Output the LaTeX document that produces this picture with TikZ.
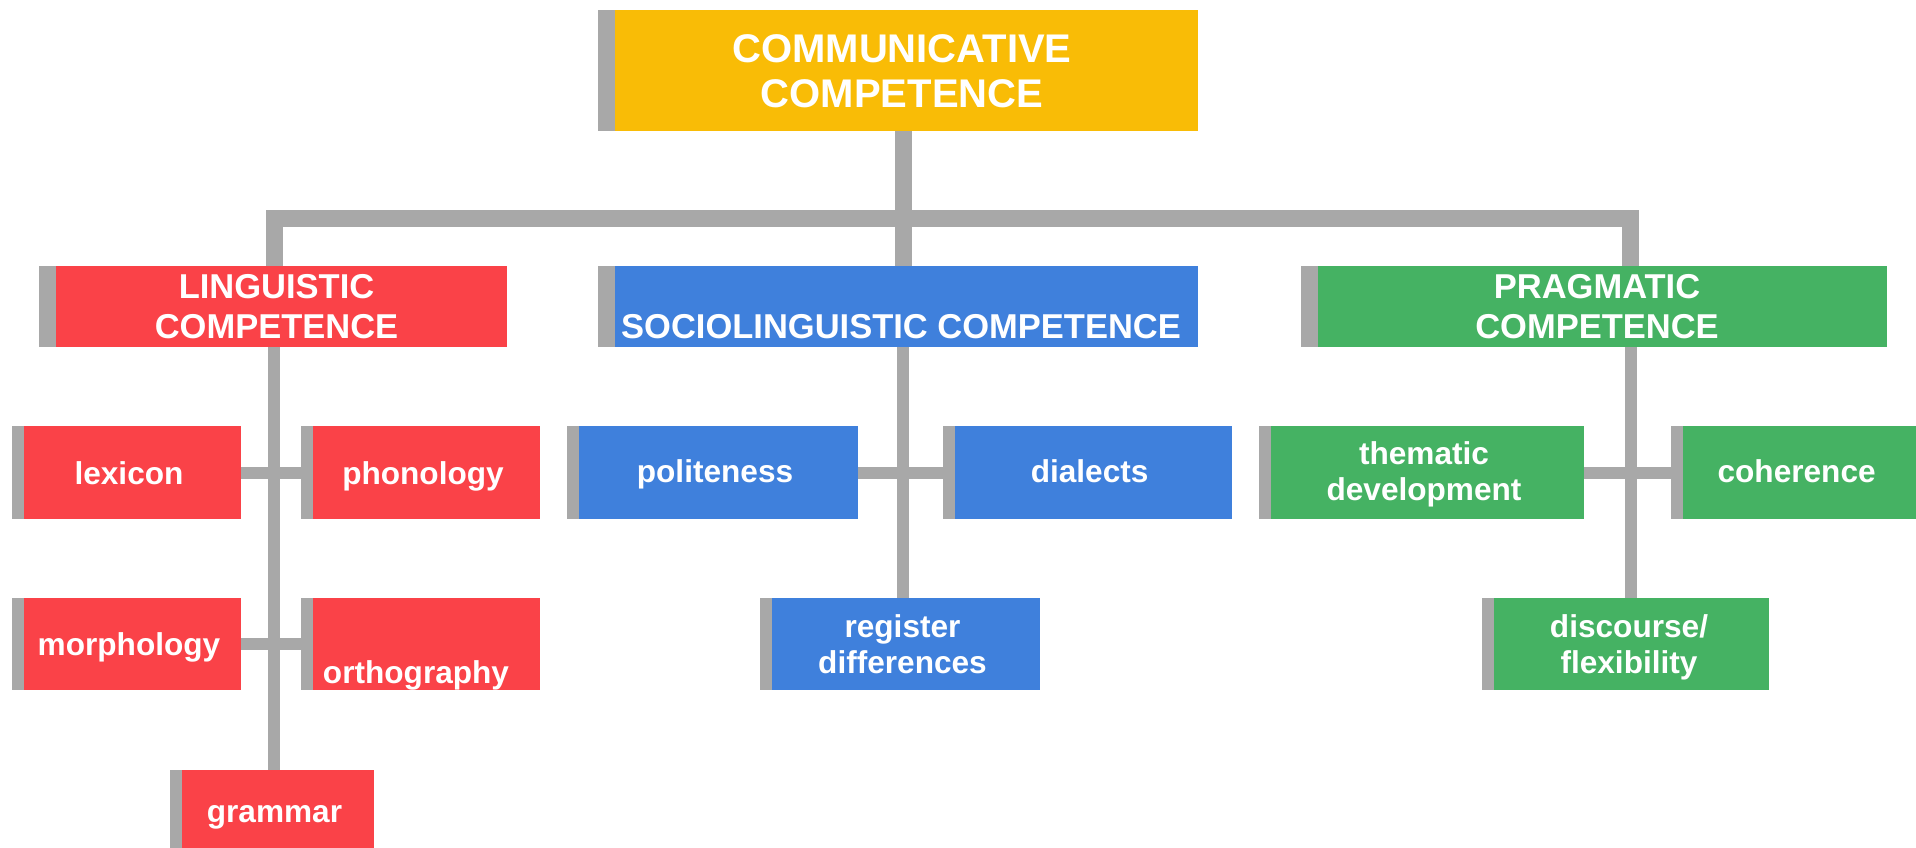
\documentclass[tikz,border=0pt]{standalone}
\usepackage{fontspec}
\setmainfont{Liberation Sans}
\definecolor{cyel}{RGB}{249,188,6}
\definecolor{cred}{RGB}{250,66,72}
\definecolor{cblue}{RGB}{63,128,220}
\definecolor{cgreen}{RGB}{69,178,99}
\definecolor{barcol}{RGB}{168,168,168}
\tikzset{
  boxbase/.style={rectangle, inner sep=0pt, outer sep=0pt, anchor=north west, draw=none},
  barbox/.style={boxbase, path picture={\fill[barcol] (path picture bounding box.south west) rectangle ([xshift=#1]path picture bounding box.north west);}},
  bigbox/.style={barbox=17pt},
  smallbox/.style={barbox=12pt},
  sz/.style 2 args={minimum width=#1pt, minimum height=#2pt},
  txtbase/.style={text=white, align=center, inner sep=0pt, outer sep=0pt, anchor=base},
  tzero/.style={txtbase, font=\fontsize{40}{45}\selectfont\bfseries},
  tone/.style={txtbase, font=\fontsize{34.5}{40}\selectfont\bfseries},
  ttwo/.style={txtbase, font=\fontsize{31.6}{36}\selectfont\bfseries},
  connA/.style={draw=barcol, line width=17pt, line join=miter, line cap=butt},
  connB/.style={draw=barcol, line width=12pt, line join=miter, line cap=butt},
}
\begin{document}
\begin{tikzpicture}[x=1pt,y=-1pt]
\useasboundingbox (0,0) rectangle (1916,848);
\clip (0,0) rectangle (1916,848);
% boxes
\node[bigbox, fill=cyel, sz={600}{121}] (top) at (598,10) {};
\node[bigbox, fill=cred, sz={468}{81}] (ling) at (39,266) {};
\node[bigbox, fill=cblue, sz={600}{81}] (soc) at (598,266) {};
\node[bigbox, fill=cgreen, sz={586}{81}] (prag) at (1301,266) {};
\node[smallbox, fill=cred, sz={229}{93}] (lex) at (12,426) {};
\node[smallbox, fill=cred, sz={239}{93}] (pho) at (301,426) {};
\node[smallbox, fill=cred, sz={229}{92}] (mor) at (12,598) {};
\node[smallbox, fill=cred, sz={239}{92}] (ort) at (301,598) {};
\node[smallbox, fill=cred, sz={204}{92}] (gra) at (170,770) {};
\node[smallbox, fill=cblue, sz={291}{93}] (pol) at (567,426) {};
\node[smallbox, fill=cblue, sz={289}{93}] (dia) at (943,426) {};
\node[smallbox, fill=cblue, sz={280}{92}] (reg) at (760,598) {};
\node[smallbox, fill=cgreen, sz={325}{93}] (the) at (1259,426) {};
\node[smallbox, fill=cgreen, sz={260}{93}] (coh) at (1671,426) {};
\node[smallbox, fill=cgreen, sz={287}{92}] (dis) at (1482,598) {};
% connectors
\coordinate (bL) at (274.7,218.5);
\coordinate (bC) at (903.5,218.5);
\coordinate (bR) at (1630.7,218.5);
\draw[connA] (bL |- ling.north) -- (bL) -- (bR) -- (bR |- prag.north);
\draw[connA] (bC |- top.south) -- (bC |- soc.north);
\coordinate (sL) at (274,0);
\coordinate (sC) at (903,0);
\coordinate (sR) at (1630.5,0);
\draw[connB] (sL |- ling.south) -- (sL |- gra.north);
\draw[connB] (lex.east) -- (pho.west);
\draw[connB] (mor.east) -- (ort.west);
\draw[connB] (sC |- soc.south) -- (sC |- reg.north);
\draw[connB] (pol.east) -- (dia.west);
\draw[connB] (sR |- prag.south) -- (sR |- dis.north);
\draw[connB] (the.east) -- (coh.west);
% texts (anchor base = baseline of the last line)
\node[tzero] (ttop) at (902,107.3) {COMMUNICATIVE\\COMPETENCE};
\node[tone] (tling) at (276.5,338.9) {LINGUISTIC\\COMPETENCE};
\node[tone] (tsoc) at (901,338) {SOCIOLINGUISTIC COMPETENCE};
\node[tone] (tprag) at (1597,338.3) {PRAGMATIC\\COMPETENCE};
\node[ttwo] (tlex) at (129,484) {lexicon};
\node[ttwo] (tpho) at (423,484) {phonology};
\node[ttwo] (tmor) at (129,655) {morphology};
\node[ttwo] (tort) at (416,683) {orthography};
\node[ttwo] (tgra) at (274.5,822) {grammar};
\node[ttwo] (tpol) at (715,482) {politeness};
\node[ttwo] (tdia) at (1089.6,482) {dialects};
\node[ttwo] (treg) at (902.5,673) {register\\differences};
\node[ttwo] (tthe) at (1424,500) {thematic\\development};
\node[ttwo] (tcoh) at (1796.6,482) {coherence};
\node[ttwo] (tdis) at (1629,673) {discourse/\\flexibility};
\end{tikzpicture}
\end{document}
